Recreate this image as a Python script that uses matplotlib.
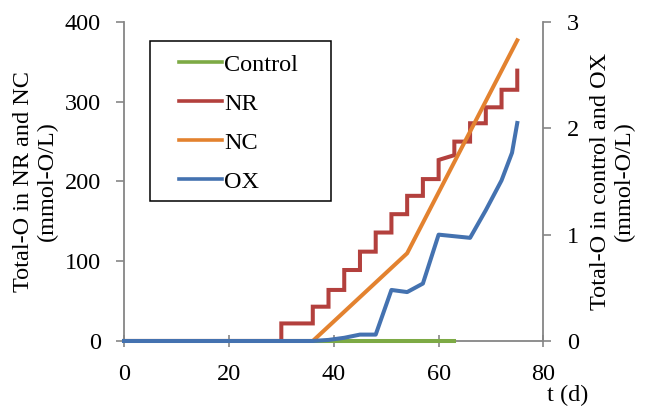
import matplotlib

matplotlib.use("Agg")
import matplotlib.pyplot as plt
from matplotlib.patches import Rectangle

# primary axis: NR (stepwise dosing) and NC, mmol-O/L
nr_t = [0, 30, 30, 36, 36, 39, 39, 42, 42, 45, 45, 48, 48, 51, 51, 54, 54,
        57, 57, 60, 60, 63, 63, 66, 66, 69, 69, 72, 72, 75, 75]
nr_v = [0, 0, 22, 22, 43, 43, 64, 64, 89, 89, 112, 112, 136, 136, 159, 159, 182,
        182, 203, 203, 227, 233, 250, 250, 273, 273, 293, 293, 315, 315, 339]
nc_t = [0, 36, 54, 75]
nc_v = [0, 0, 110, 377]

# secondary axis: control and OX, mmol-O/L
ctrl_t = [0, 63]
ctrl_v = [0, 0]
ox_t = [0, 36, 39, 42, 45, 48, 51, 54, 57, 60, 66, 69, 72, 74, 75]
ox_v = [0, 0, 0.01, 0.03, 0.06, 0.06, 0.48, 0.46, 0.54, 1.0, 0.97, 1.23, 1.51, 1.77, 2.05]

COLORS = {
    "Control": "#7DAA45",
    "NR": "#B3403D",
    "NC": "#E3822F",
    "OX": "#4472B0",
}
AXIS_GRAY = "#868686"
FS = 17.5
LW = 2.9

plt.rcParams.update(
    {
        "font.family": "serif",
        "font.serif": ["Liberation Serif", "DejaVu Serif"],
        "font.size": FS,
    }
)

fig = plt.figure(figsize=(6.47, 4.07), dpi=100)
ax = fig.add_axes([0.1917, 0.1622, 0.6483, 0.7838])
ax2 = ax.twinx()

(l_nr,) = ax.plot(nr_t, nr_v, color=COLORS["NR"], lw=LW, solid_joinstyle="miter")
(l_nc,) = ax.plot(nc_t, nc_v, color=COLORS["NC"], lw=LW)
(l_ctrl,) = ax2.plot(ctrl_t, ctrl_v, color=COLORS["Control"], lw=LW)
(l_ox,) = ax2.plot(ox_t, ox_v, color=COLORS["OX"], lw=LW)
for line in (l_nr, l_nc, l_ctrl, l_ox):
    line.set_clip_on(False)

ax.set_xlim(0, 80)
ax.set_ylim(0, 400)
ax2.set_ylim(0, 3)
ax.set_xticks([0, 20, 40, 60, 80])
ax.set_yticks([0, 100, 200, 300, 400])
ax2.set_yticks([0, 1, 2, 3])

for a in (ax, ax2):
    a.spines["top"].set_visible(False)
    for s in a.spines.values():
        s.set_color(AXIS_GRAY)
        s.set_linewidth(1.3)
ax.spines["right"].set_visible(False)
ax2.spines["left"].set_visible(False)
ax2.spines["bottom"].set_visible(False)

ax.tick_params(axis="x", direction="inout", length=9, width=1.2, color=AXIS_GRAY, pad=12)
ax.tick_params(axis="y", direction="out", length=5.5, width=1.2, color=AXIS_GRAY, pad=11)
ax2.tick_params(axis="y", direction="out", length=5.5, width=1.2, color=AXIS_GRAY, pad=11.5)

ax.set_ylabel("Total-O in NR and NC\n(mmol-O/L)", linespacing=1.15, labelpad=5)
ax2.set_ylabel("Total-O in control and OX\n(mmol-O/L)", linespacing=1.15,
               rotation=90, labelpad=8)
fig.text(0.878, 0.0295, "t (d)", ha="center", va="center")

handles = [l_ctrl, l_nr, l_nc, l_ox]
labels = ["Control", "NR", "NC", "OX"]
leg = ax2.legend(
    handles,
    labels,
    loc="upper left",
    bbox_to_anchor=(0.131, 0.900),
    frameon=False,
    borderpad=0,
    borderaxespad=0,
    handlelength=1.75,
    handletextpad=0.12,
    labelspacing=0.7,
)
for h in leg.legend_handles:
    h.set_linewidth(2.6)
ax2.add_patch(Rectangle((0.062, 0.439), 0.431, 0.501, transform=ax2.transAxes,
                        fill=False, edgecolor="black", linewidth=1.1, zorder=5))

fig.savefig("out.png", dpi=100)
